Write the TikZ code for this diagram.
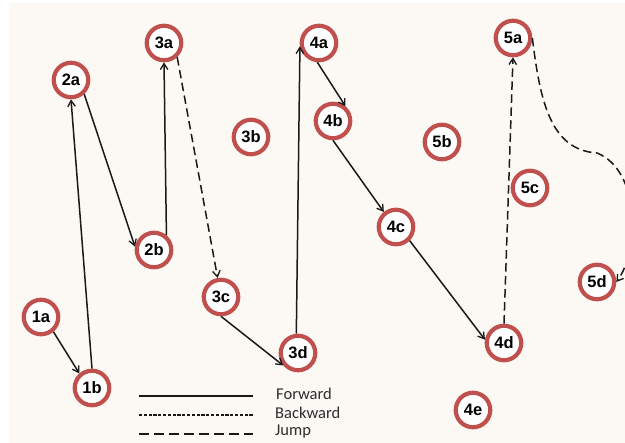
\documentclass[tikz,border=0pt]{standalone}
\usepackage{fontspec}
\setmainfont{Liberation Sans}
\newfontfamily\legendfont{Carlito}
\usetikzlibrary{arrows.meta}
\definecolor{bgcream}{RGB}{252,249,245}
\definecolor{ringred}{RGB}{192,80,77}
\definecolor{legendgray}{RGB}{45,45,45}
\tikzset{
  stage/.style={circle, draw=ringred, line width=4.2pt, fill=white,
    minimum size=34.5pt, inner sep=0pt, outer sep=2.1pt,
    font=\bfseries\fontsize{16.5}{17}\selectfont},
  fwd/.style={line width=1.5pt, draw=black!90, -{Straight Barb[length=6pt,width=7.5pt,line width=1.3pt]}},
  jumpline/.style={fwd, dash pattern=on 8.5pt off 4.5pt},
  legline/.style={line width=1.6pt, draw=black!90},
  legtext/.style={anchor=west, inner sep=0pt, text=legendgray, font=\legendfont\fontsize{16.5}{17}\selectfont},
}
\begin{document}
\begin{tikzpicture}[x=1pt,y=-1pt]
\useasboundingbox (0,0) rectangle (625,443);
\fill[bgcream] (10,3) rectangle (625,443);
% nodes
\node[stage] (1a) at (41,317) {1a};
\node[stage] (1b) at (92,388) {1b};
\node[stage] (2a) at (71,80) {2a};
\node[stage] (2b) at (154,250) {2b};
\node[stage] (3a) at (164,43) {3a};
\node[stage] (3b) at (251,137) {3b};
\node[stage] (3c) at (221,297) {3c};
\node[stage] (3d) at (298,353) {3d};
\node[stage] (4a) at (319,43) {4a};
\node[stage] (4b) at (333,121) {4b};
\node[stage] (4c) at (396,227) {4c};
\node[stage] (4d) at (504,343) {4d};
\node[stage] (4e) at (473,410) {4e};
\node[stage] (5a) at (513,38) {5a};
\node[stage] (5b) at (442,142) {5b};
\node[stage] (5c) at (530,188) {5c};
\node[stage] (5d) at (597,282) {5d};
% connectors
\draw[fwd] (1a.-50) -- (1b.131);
\draw[fwd] (1b.north) -- (2a.south);
\draw[fwd] (2a.-47) -- (2b.170);
\draw[fwd] (2b.50) -- (3a.south);
\draw[jumpline] (3a.-47) -- (3c.100);
\draw[fwd] (3c.south) -- (3d.220);
\draw[fwd] (3d.95) -- (4a.190);
\draw[fwd] (4a.-95) -- (4b.50);
\draw[fwd] (4b.south) -- (4c.129);
\draw[fwd] (4c.-45) -- (4d.170);
\draw[jumpline] (4d.north) -- (5a.south);
\begin{scope}
\clip (0,0) rectangle (625,443);
\draw[jumpline] (5a.east) .. controls (540,100) and (550,150) .. (597,153)
  .. controls (640,170) and (640,250) .. (5d.east);
\end{scope}
% legend
\coordinate (f1) at (139,396); \coordinate (f2) at (253,396);
\coordinate (b1) at (139,415); \coordinate (b2) at (253,415);
\coordinate (j1) at (139,434); \coordinate (j2) at (253,434);
\draw[legline] (f1) -- (f2);
\draw[legline, dash pattern=on 3.2pt off 1.6pt] (b1) -- (b2);
\draw[legline, dash pattern=on 10pt off 5pt] (j1) -- (j2);
\node[legtext] (tf) at (276,394) {Forward};
\node[legtext] (tb) at (275,413) {Backward};
\node[legtext] (tj) at (275,432) {Jump};
\end{tikzpicture}
\end{document}
